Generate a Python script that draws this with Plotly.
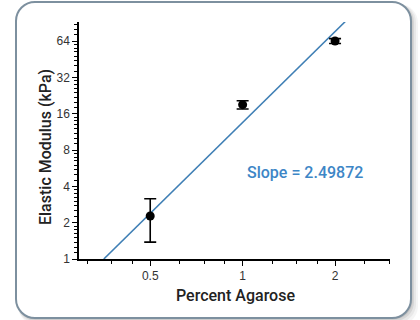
import plotly.graph_objects as go

# ---- data ----
agarose = [0.5, 1, 2]
modulus = [2.27, 19.0, 64.0]
modulus_err = [0.89, 1.5, 3.0]
fit_x = [0.353, 2.16]
fit_y = [1.0, 92.9]
slope_label = "Slope = 2.49872"
x_ticks = [0.5, 1, 2]
x_tick_text = ["0.5", "1", "2"]
y_ticks = [1, 2, 4, 8, 16, 32, 64]
y_tick_text = ["1", "2", "4", "8", "16", "32", "64"]

# ---- layout geometry (pixels) ----
W, H = 420, 320
L, R, T, B = 79, 30, 22, 61
PW, PH = W - L - R, H - T - B


def px(x):
    return (x - L) / PW


def py(y):
    return (H - B - y) / PH


def rrect(x0, y0, x1, y1, r):
    k = 0.45
    pts = []
    pts.append(f"M {px(x0 + r)},{py(y0)}")
    pts.append(f"L {px(x1 - r)},{py(y0)}")
    pts.append(f"C {px(x1 - r * k)},{py(y0)} {px(x1)},{py(y0 + r * k)} {px(x1)},{py(y0 + r)}")
    pts.append(f"L {px(x1)},{py(y1 - r)}")
    pts.append(f"C {px(x1)},{py(y1 - r * k)} {px(x1 - r * k)},{py(y1)} {px(x1 - r)},{py(y1)}")
    pts.append(f"L {px(x0 + r)},{py(y1)}")
    pts.append(f"C {px(x0 + r * k)},{py(y1)} {px(x0)},{py(y1 - r * k)} {px(x0)},{py(y1 - r)}")
    pts.append(f"L {px(x0)},{py(y0 + r)}")
    pts.append(f"C {px(x0)},{py(y0 + r * k)} {px(x0 + r * k)},{py(y0)} {px(x0 + r)},{py(y0)}")
    pts.append("Z")
    return " ".join(pts)


shapes = []
# soft shadow
for off, op in [(7, 0.06), (5, 0.08), (3, 0.12), (1.5, 0.15)]:
    shapes.append(dict(type="path", xref="paper", yref="paper", layer="below",
                       path=rrect(16 + off * 0.3, 2 + off * 0.3, 411 + off, 318 + off, 19),
                       fillcolor=f"rgba(90,90,90,{op})", line=dict(width=0)))
shapes.append(dict(type="path", xref="paper", yref="paper", layer="below",
                   path=rrect(16, 2, 411, 318, 19),
                   fillcolor="white", line=dict(color="#7d909f", width=2)))

fig = go.Figure()
fig.add_trace(go.Scatter(x=fit_x, y=fit_y, mode="lines",
                         line=dict(color="#3f7fb5", width=1.6),
                         hoverinfo="skip", showlegend=False, cliponaxis=False))
fig.add_trace(go.Scatter(x=agarose, y=modulus, mode="markers",
                         marker=dict(color="black", size=9),
                         error_y=dict(type="data", array=modulus_err, visible=True,
                                      color="black", thickness=1.6, width=6),
                         showlegend=False))

minor_y = [p * (1 + k / 8) for p in [1, 2, 4, 8, 16, 32, 64] for k in range(1, 8) if p * (1 + k / 8) < 92]
minor_x = [p * m for p in [0.25, 0.5, 1, 2] for m in (1.25, 1.5, 1.75) if 0.29 < p * m < 3.02]

title_font = dict(family="Roboto, Liberation Sans, Arial, sans-serif", size=16,
                  color="#222", weight=500)

fig.update_layout(
    width=W, height=H,
    margin=dict(l=L, r=R, t=T, b=B, autoexpand=False),
    paper_bgcolor="white", plot_bgcolor="rgba(0,0,0,0)",
    shapes=shapes,
    font=dict(family="Liberation Sans, Arial, sans-serif", color="#222"),
    xaxis=dict(type="log", range=[-0.533, 0.480], tickvals=x_ticks, ticktext=x_tick_text,
               showgrid=False, zeroline=False, showline=True, linecolor="black", linewidth=1.5,
               ticks="outside", ticklen=5, tickwidth=1.3, tickcolor="black",
               tickfont=dict(size=12, color="#333"),
               minor=dict(tickvals=minor_x, ticks="outside", ticklen=3, tickwidth=1.2,
                          tickcolor="black", showgrid=False)),
    yaxis=dict(type="log", range=[0, 1.964], tickvals=y_ticks, ticktext=y_tick_text,
               showgrid=False, zeroline=False, showline=True, linecolor="black", linewidth=1.5,
               ticks="outside", ticklen=5, tickwidth=1.3, tickcolor="black",
               tickfont=dict(size=12, color="#333"),
               minor=dict(tickvals=minor_y, ticks="outside", ticklen=3, tickwidth=1,
                          tickcolor="black", showgrid=False)),
    annotations=[
        dict(text="Percent Agarose", xref="paper", yref="paper", x=px(235), y=py(295),
             xanchor="center", yanchor="middle", showarrow=False, font=title_font),
        dict(text="Elastic Modulus (kPa)", xref="paper", yref="paper", x=px(45), y=py(147),
             xanchor="center", yanchor="middle", showarrow=False, textangle=-90, font=title_font),
        dict(text=slope_label, xref="paper", yref="paper", x=px(305), y=py(172),
             xanchor="center", yanchor="middle", showarrow=False,
             font=dict(family="Roboto, Liberation Sans, Arial, sans-serif", size=16,
                       color="#3d86c6", weight=500)),
    ],
)

fig.write_html("out.html", config={"displayModeBar": False},
               post_script="document.body.style.margin='0';document.body.style.padding='0';")
